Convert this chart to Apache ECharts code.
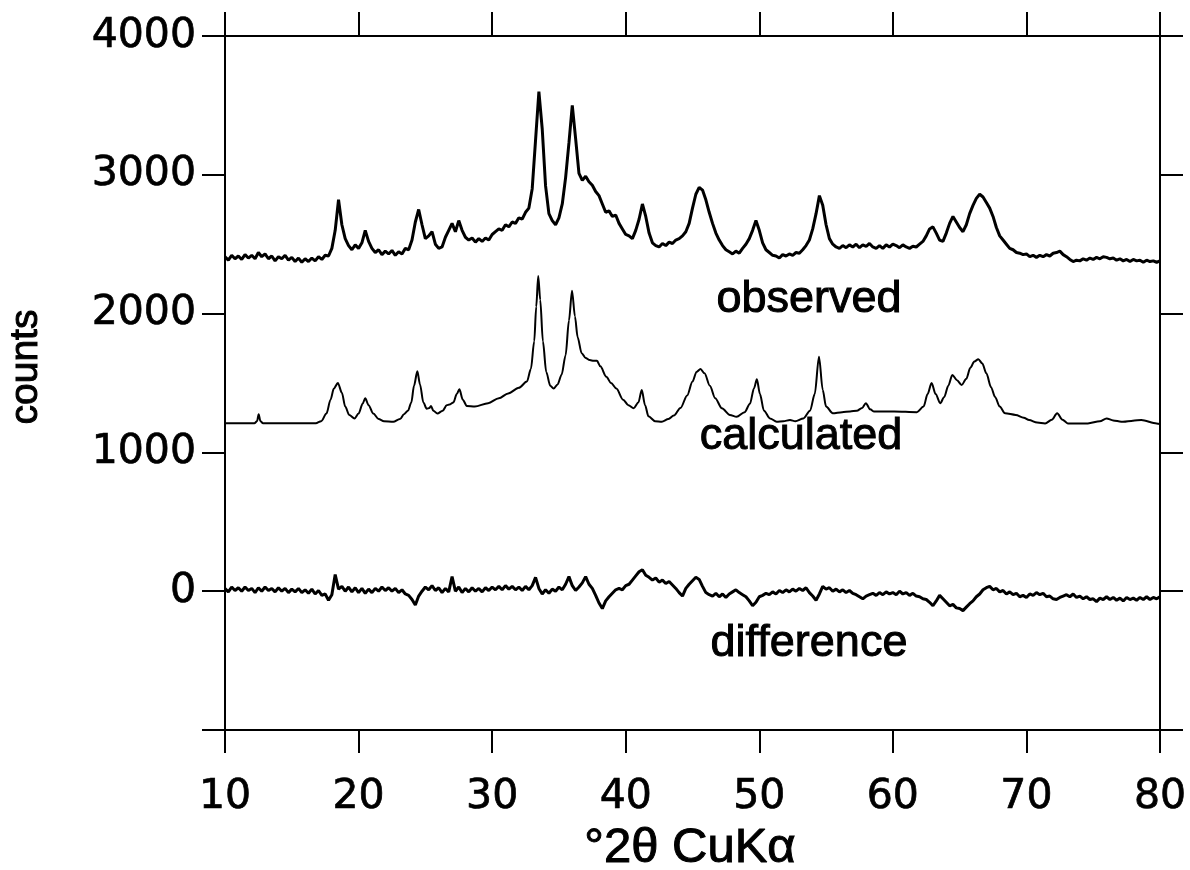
<!DOCTYPE html>
<html>
<head>
<meta charset="utf-8">
<script src="https://cdn.jsdelivr.net/npm/echarts@6/dist/echarts.min.js"></script>
<style>
html,body{margin:0;padding:0;background:#fff;}
#chart{width:1190px;height:870px;}
</style>
</head>
<body>
<div id="chart"></div>
<script>
// scan start / step in degrees 2-theta for the observed and difference traces
const scanStart = 10;
const scanStep = 0.25;

// observed counts, 10.00 .. 80.00 deg in 0.25 steps
const observed = [
2410,2385,2420,2395,2415,2390,2425,2400,
2420,2395,2440,2410,2430,2395,2415,2380,
2410,2395,2420,2385,2405,2375,2400,2370,
2395,2375,2400,2380,2410,2390,2420,2415,
2470,2600,2820,2640,2540,2490,2460,2495,
2470,2510,2600,2520,2470,2440,2460,2425,
2450,2430,2455,2420,2445,2430,2470,2460,
2530,2660,2750,2640,2540,2560,2590,2500,
2470,2480,2550,2600,2650,2590,2670,2600,
2550,2530,2545,2515,2540,2520,2545,2530,
2570,2590,2610,2600,2640,2625,2660,2650,
2690,2680,2730,2760,2900,3250,3600,3330,
2920,2720,2670,2640,2690,2790,2980,3230,
3500,3260,3010,2960,2990,2950,2925,2880,
2850,2790,2730,2740,2700,2710,2650,2610,
2570,2560,2540,2600,2680,2790,2700,2580,
2510,2490,2480,2505,2490,2515,2505,2530,
2540,2560,2590,2650,2760,2860,2910,2890,
2820,2730,2650,2580,2530,2490,2460,2445,
2430,2450,2435,2470,2500,2540,2600,2670,
2600,2510,2460,2440,2420,2415,2400,2425,
2415,2430,2420,2440,2435,2460,2490,2530,
2610,2720,2850,2780,2640,2540,2500,2480,
2470,2490,2475,2495,2480,2500,2475,2495,
2485,2505,2480,2470,2490,2470,2495,2480,
2500,2490,2475,2495,2480,2470,2485,2480,
2500,2520,2560,2610,2625,2580,2530,2520,
2580,2650,2700,2660,2620,2590,2640,2720,
2780,2830,2860,2840,2800,2760,2700,2620,
2560,2530,2500,2470,2460,2440,2435,2425,
2430,2410,2420,2405,2420,2410,2425,2415,
2435,2440,2450,2425,2410,2390,2375,2385,
2380,2395,2385,2400,2390,2405,2395,2410,
2405,2395,2400,2385,2395,2380,2390,2375,
2390,2380,2385,2370,2385,2375,2380,2370,
2380
];

// difference (observed - calculated), same grid
const difference = [
20,-5,30,5,25,0,30,5,
20,-10,25,0,30,5,20,-5,
25,0,20,-10,15,-5,20,-10,
10,-15,15,-20,5,-30,-20,-65,
-25,120,15,35,0,30,-5,25,
-10,20,-15,15,-10,20,0,30,
5,25,0,20,-10,10,-20,-30,
-60,-100,-35,0,30,10,40,5,
25,-10,20,-5,105,0,30,-10,
20,-5,25,0,20,-5,25,5,
30,10,35,10,40,15,35,10,
30,5,35,10,40,100,20,-20,
10,-15,15,0,30,10,50,105,
40,5,30,60,105,50,20,-30,
-85,-125,-70,-40,-15,10,20,10,
40,50,80,110,140,155,115,100,
80,95,65,80,55,70,45,20,
-10,-35,20,50,75,100,85,35,
-10,-25,-35,-15,-40,-20,-45,-20,
-5,10,-10,-25,-40,-70,-105,-80,
-40,-30,-15,-25,-5,-20,5,-10,
10,-5,15,0,20,5,25,-10,
-35,-65,-20,35,15,25,0,15,
-5,10,-10,5,-15,-25,-40,-55,
-35,-25,-15,-30,-10,-25,-5,-20,
-10,-25,0,-20,-10,-30,-15,-35,
-40,-55,-60,-80,-105,-70,-30,-55,
-80,-105,-95,-120,-125,-140,-115,-90,
-70,-40,-20,10,25,35,10,20,
-5,5,-20,-5,-25,-15,-40,-30,
-45,-20,-30,-10,-25,-15,-40,-35,
-55,-60,-45,-35,-25,-40,-20,-45,
-35,-55,-40,-60,-55,-75,-50,-60,
-40,-60,-45,-65,-50,-70,-45,-60,
-50,-65,-45,-60,-40,-60,-45,-55,
-40
];

// calculated profile, read at characteristic points
const calcX = [
10.0,12.2,12.4,12.52,12.65,12.85,16.8,17.2,17.6,17.9,18.15,18.45,18.75,19.0,19.3,19.7,
20.0,20.3,20.5,20.75,21.1,21.5,21.9,22.6,23.1,23.4,23.7,23.95,24.15,24.4,24.6,24.85,
25.1,25.3,25.42,25.6,25.9,26.3,26.6,26.8,27.1,27.35,27.55,27.8,28.1,28.7,29.7,30.5,
31.2,32.0,32.6,32.9,33.15,33.3,33.45,33.6,33.8,34.05,34.35,34.6,34.9,35.2,35.5,35.75,
35.98,36.2,36.4,36.7,37.0,37.3,37.6,37.85,38.1,38.55,38.9,39.3,39.8,40.2,40.6,40.95,
41.2,41.45,41.7,42.2,42.7,43.2,43.6,44.1,44.6,45.0,45.3,45.6,45.9,46.3,46.7,47.2,
47.8,48.3,48.9,49.3,49.6,49.82,50.05,50.35,50.8,51.3,51.8,52.3,52.7,53.3,53.8,54.15,
54.47,54.75,55.0,55.5,56.2,56.8,57.3,57.7,57.98,58.3,58.6,60.1,61.8,62.3,62.6,62.9,
63.2,63.55,63.85,64.15,64.45,64.8,65.15,65.5,65.8,66.1,66.4,66.7,67.0,67.35,67.65,68.0,
68.4,69.2,69.8,70.2,70.8,71.4,71.9,72.3,72.7,73.1,74.6,75.5,76.0,76.5,77.1,78.6,
79.75,80.0
];
const calcY = [
1210,1210,1225,1275,1225,1210,1210,1225,1280,1380,1460,1500,1430,1330,1270,1245,
1280,1350,1390,1340,1280,1240,1225,1220,1240,1275,1300,1360,1480,1585,1490,1360,
1315,1320,1335,1300,1280,1300,1340,1345,1360,1420,1455,1380,1335,1330,1355,1390,
1425,1465,1510,1600,1800,2050,2270,2100,1800,1580,1480,1460,1490,1560,1700,1950,
2165,1980,1830,1715,1680,1665,1660,1660,1620,1545,1500,1460,1380,1340,1318,1360,
1450,1340,1260,1225,1221,1240,1265,1320,1410,1510,1580,1600,1570,1480,1390,1318,
1270,1257,1290,1350,1460,1527,1420,1300,1245,1221,1225,1233,1225,1245,1300,1420,
1690,1450,1330,1282,1290,1295,1300,1320,1355,1310,1294,1295,1290,1330,1420,1500,
1420,1355,1400,1480,1558,1520,1486,1530,1610,1655,1671,1640,1570,1470,1400,1330,
1282,1270,1250,1233,1215,1209,1235,1282,1235,1209,1209,1225,1245,1230,1221,1233,
1209,1205
];

const yTicks = [-1000, 0, 1000, 2000, 3000, 4000];
const yTickLabels = ['', '0', '1000', '2000', '3000', '4000'];

const labels = ['observed', 'calculated', 'difference'];
const xTitle = '\u00b02\u03b8 CuK\u03b1';
const yTitle = 'counts';

const obsData = observed.map((v, i) => [scanStart + i * scanStep, v]);
const diffData = difference.map((v, i) => [scanStart + i * scanStep, v]);
const calcData = calcX.map((x, i) => [x, calcY[i]]);

const NUMFONT = '"DejaVu Sans", sans-serif';
const FONT = '"Liberation Sans", Arial, Helvetica, sans-serif';
const AX = {color: '#000', width: 2};

function yLabel(v) {
  const i = yTicks.indexOf(v);
  return i >= 0 ? yTickLabels[i] : '';
}

const wordStyle = {fontSize: 45, fontFamily: FONT, fill: '#000', stroke: '#000', lineWidth: 1,
                   align: 'center', verticalAlign: 'middle'};

const chart = echarts.init(document.getElementById('chart'), null, {renderer: 'canvas'});
chart.setOption({
  animation: false,
  backgroundColor: '#fff',
  grid: {left: 225, right: 30, top: 36, bottom: 140, outerBoundsMode: 'none', containLabel: false},
  xAxis: [
    {
      type: 'value', position: 'bottom', min: 10, max: 80, interval: 10,
      axisLine: {show: true, onZero: false, lineStyle: AX},
      axisTick: {show: true, inside: false, length: 23, lineStyle: AX},
      splitLine: {show: false},
      axisLabel: {color: '#000', fontSize: 41, fontFamily: NUMFONT, margin: 47,
                  textBorderColor: '#000', textBorderWidth: 0.7}
    },
    {
      type: 'value', position: 'top', min: 10, max: 80, interval: 10,
      axisLine: {show: true, onZero: false, lineStyle: AX},
      axisTick: {show: true, inside: false, length: 24, lineStyle: AX},
      splitLine: {show: false},
      axisLabel: {show: false}
    }
  ],
  yAxis: [
    {
      type: 'value', position: 'left', min: -1000, max: 4000, interval: 1000,
      axisLine: {show: true, onZero: false, lineStyle: AX},
      axisTick: {show: true, inside: false, length: 23, lineStyle: AX},
      splitLine: {show: false},
      axisLabel: {color: '#000', fontSize: 41, fontFamily: NUMFONT, margin: 29, formatter: yLabel,
                  textBorderColor: '#000', textBorderWidth: 0.7}
    },
    {
      type: 'value', position: 'right', min: -1000, max: 4000, interval: 1000,
      axisLine: {show: true, onZero: false, lineStyle: AX},
      axisTick: {show: true, inside: false, length: 23, lineStyle: AX},
      splitLine: {show: false},
      axisLabel: {show: false}
    }
  ],
  graphic: [
    {type: 'text', x: 809, y: 300, style: Object.assign({text: labels[0]}, wordStyle)},
    {type: 'text', x: 801, y: 437, style: Object.assign({text: labels[1]}, wordStyle)},
    {type: 'text', x: 809, y: 644, style: Object.assign({text: labels[2]}, wordStyle)},
    {type: 'text', x: 26, y: 367, rotation: Math.PI / 2,
     style: Object.assign({text: yTitle}, wordStyle, {fontSize: 39})},
    {type: 'text', x: 690, y: 848,
     style: Object.assign({text: xTitle}, wordStyle, {fontSize: 49})}
  ],
  series: [
    {name: labels[0], type: 'line', data: obsData, showSymbol: false, xAxisIndex: 0, yAxisIndex: 0,
     lineStyle: {color: '#000', width: 3}},
    {name: labels[1], type: 'line', data: calcData, showSymbol: false, smooth: 0.3, smoothMonotone: 'x',
     xAxisIndex: 0, yAxisIndex: 0, lineStyle: {color: '#000', width: 2}},
    {name: labels[2], type: 'line', data: diffData, showSymbol: false, xAxisIndex: 0, yAxisIndex: 0,
     lineStyle: {color: '#000', width: 3}}
  ]
});
</script>
</body>
</html>
